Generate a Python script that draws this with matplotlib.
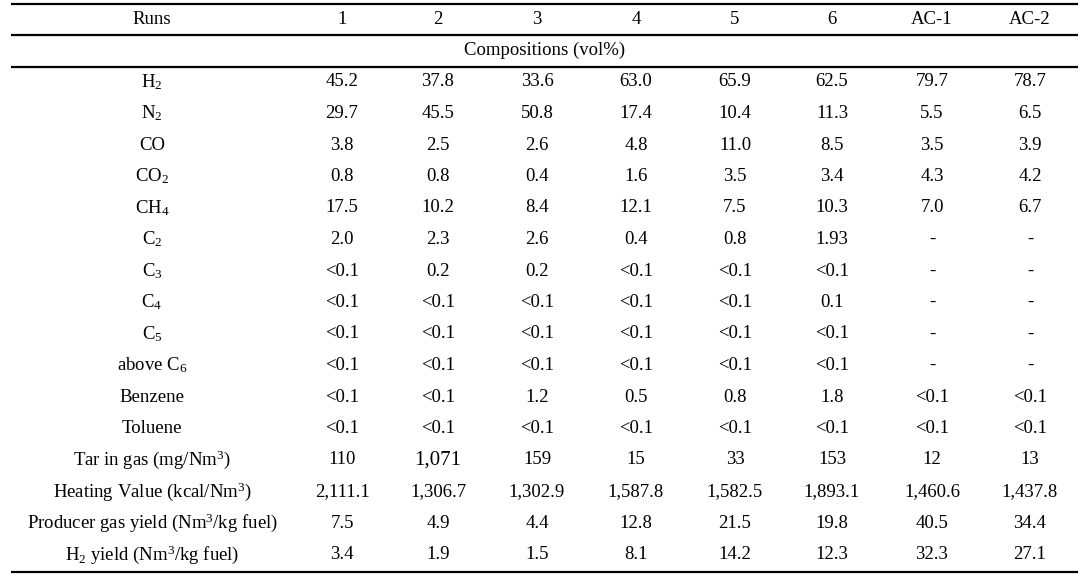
import matplotlib.pyplot as plt

plt.rcParams['font.family'] = ['Liberation Serif', 'DejaVu Serif']
plt.rcParams['mathtext.fontset'] = 'custom'
plt.rcParams['mathtext.rm'] = 'Liberation Serif'
plt.rcParams['mathtext.it'] = 'Liberation Serif:italic'

runs = ['1', '2', '3', '4', '5', '6', 'AC-1', 'AC-2']
section = 'Compositions (vol%)'

row_labels = [
    r'H$_\mathregular{2}$',
    r'N$_\mathregular{2}$',
    'CO',
    r'CO$_\mathregular{2}$',
    r'CH$_\mathregular{4}$',
    r'C$_\mathregular{2}$',
    r'C$_\mathregular{3}$',
    r'C$_\mathregular{4}$',
    r'C$_\mathregular{5}$',
    r'above C$_\mathregular{6}$',
    'Benzene',
    'Toluene',
    r'Tar in gas (mg/Nm$^\mathregular{3}$)',
    r'Heating Value (kcal/Nm$^\mathregular{3}$)',
    r'Producer gas yield (Nm$^\mathregular{3}$/kg fuel)',
    r'H$_\mathregular{2}$ yield (Nm$^\mathregular{3}$/kg fuel)',
]

h2 = ['45.2', '37.8', '33.6', '63.0', '65.9', '62.5', '79.7', '78.7']
n2 = ['29.7', '45.5', '50.8', '17.4', '10.4', '11.3', '5.5', '6.5']
co = ['3.8', '2.5', '2.6', '4.8', '11.0', '8.5', '3.5', '3.9']
co2 = ['0.8', '0.8', '0.4', '1.6', '3.5', '3.4', '4.3', '4.2']
ch4 = ['17.5', '10.2', '8.4', '12.1', '7.5', '10.3', '7.0', '6.7']
c2 = ['2.0', '2.3', '2.6', '0.4', '0.8', '1.93', '-', '-']
c3 = ['<0.1', '0.2', '0.2', '<0.1', '<0.1', '<0.1', '-', '-']
c4 = ['<0.1', '<0.1', '<0.1', '<0.1', '<0.1', '0.1', '-', '-']
c5 = ['<0.1', '<0.1', '<0.1', '<0.1', '<0.1', '<0.1', '-', '-']
c6_up = ['<0.1', '<0.1', '<0.1', '<0.1', '<0.1', '<0.1', '-', '-']
benzene = ['<0.1', '<0.1', '1.2', '0.5', '0.8', '1.8', '<0.1', '<0.1']
toluene = ['<0.1', '<0.1', '<0.1', '<0.1', '<0.1', '<0.1', '<0.1', '<0.1']
tar = ['110', '1,071', '159', '15', '33', '153', '12', '13']
heating = ['2,111.1', '1,306.7', '1,302.9', '1,587.8', '1,582.5', '1,893.1', '1,460.6', '1,437.8']
gas_yield = ['7.5', '4.9', '4.4', '12.8', '21.5', '19.8', '40.5', '34.4']
h2_yield = ['3.4', '1.9', '1.5', '8.1', '14.2', '12.3', '32.3', '27.1']

rows = [h2, n2, co, co2, ch4, c2, c3, c4, c5, c6_up, benzene, toluene,
        tar, heating, gas_yield, h2_yield]

# layout (pixel coordinates)
W, H = 1087, 578
label_x = 152
col_x = [342, 438, 537, 636, 735, 832, 932, 1030]
y0 = 19
step = 31.5
fs = 13.5
left, right = 11, 1078

fig = plt.figure(figsize=(W / 100, H / 100), dpi=100)
ax = fig.add_axes([0, 0, 1, 1])
ax.set_xlim(0, W)
ax.set_ylim(H, 0)
ax.axis('off')

def put(x, y, s, size=fs):
    ax.text(x, y, s, ha='center', va='center', fontsize=size, color='black')

put(label_x, y0, 'Runs')
for x, r in zip(col_x, runs):
    put(x, y0, r)

put((left + right) / 2, y0 + step, section)

for i, (lab, vals) in enumerate(zip(row_labels, rows)):
    y = y0 + (i + 2) * step
    put(label_x, y, lab)
    for x, v in zip(col_x, vals):
        # the 1,071 entry is set noticeably larger in the source
        put(x, y, v, size=fs + 1.5 if v == '1,071' else fs)

for yl in [4, 35, 67, 572]:
    ax.plot([left, right], [yl, yl], color='black', lw=1.6, solid_capstyle='butt')

fig.savefig('out.png', dpi=100)
